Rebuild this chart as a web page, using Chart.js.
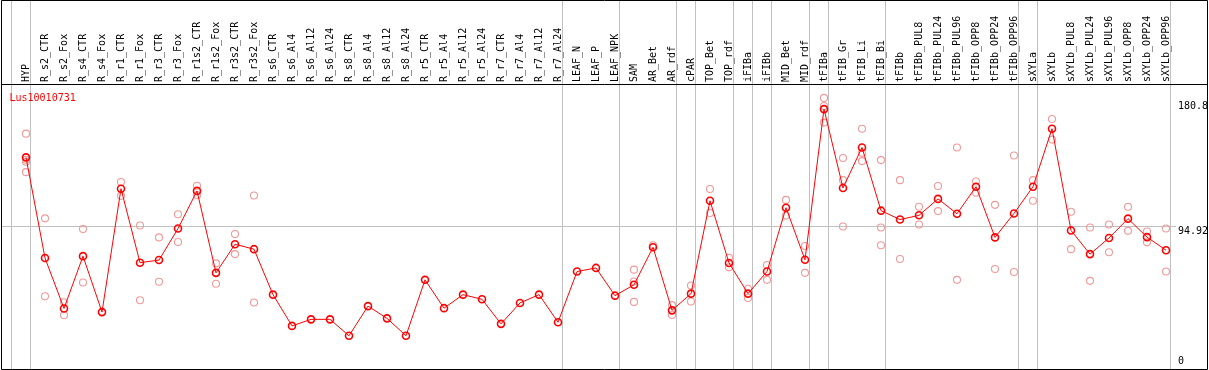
<!DOCTYPE html>
<html><head><meta charset="utf-8">
<script src="https://cdn.jsdelivr.net/npm/chart.js@4/dist/chart.umd.min.js"></script>
<style>html,body{margin:0;padding:0;background:#fff;overflow:hidden}canvas{display:block}</style>
</head><body>
<canvas id="c" width="1209" height="370"></canvas>
<script>
const geneName = 'Lus10010731';
const categories = ['HYP','R_s2_CTR','R_s2_Fox','R_s4_CTR','R_s4_Fox','R_r1_CTR','R_r1_Fox','R_r3_CTR','R_r3_Fox','R_r1s2_CTR','R_r1s2_Fox','R_r3s2_CTR','R_r3s2_Fox','R_s6_CTR','R_s6_Al4','R_s6_Al12','R_s6_Al24','R_s8_CTR','R_s8_Al4','R_s8_Al12','R_s8_Al24','R_r5_CTR','R_r5_Al4','R_r5_Al12','R_r5_Al24','R_r7_CTR','R_r7_Al4','R_r7_Al12','R_r7_Al24','LEAF_N','LEAF_P','LEAF_NPK','SAM','AR_Bet','AR_rdf','cPAR','TOP_Bet','TOP_rdf','iFIBa','iFIBb','MID_Bet','MID_rdf','tFIBa','tFIB_Gr','tFIB_Li','tFIB_Bi','tFIBb','tFIBb_PUL8','tFIBb_PUL24','tFIBb_PUL96','tFIBb_OPP8','tFIBb_OPP24','tFIBb_OPP96','sXYLa','sXYLb','sXYLb_PUL8','sXYLb_PUL24','sXYLb_PUL96','sXYLb_OPP8','sXYLb_OPP24','sXYLb_OPP96'];
const means = [142.5,73.2,38.5,74.5,36.0,120.9,70.0,71.8,93.5,119.4,63.0,82.7,79.3,48.0,26.5,31.0,31.0,19.7,40.1,31.7,19.7,58.2,38.7,48.0,44.8,27.9,42.3,48.0,29.0,63.9,66.4,47.3,54.8,80.6,37.2,48.7,112.6,69.8,48.7,63.9,107.8,72.0,175.7,121.4,149.3,105.8,99.7,102.6,113.9,103.7,122.3,87.4,103.9,122.3,162.2,92.2,75.9,87.0,100.3,87.6,78.6];
const replicates = [
  [158.8,140.8,139.5,132.3],[100.5,46.9],[42.8,33.8],[93.1,56.4],[],[125.5,116.0],[95.6,44.2],[87.4,56.9],[103.3,84.2],[123.0,116.4],
  [69.5,55.5],[89.7,75.9],[116.2,42.6],[],[],[],[],[],[],[],
  [],[],[],[],[],[],[],[],[],[],
  [],[],[65.2,57.1,43.0],[82.0],[40.8,34.0],[54.3,43.3],[120.7,104.2],[73.4,66.8],[52.1,45.7],[68.4,58.2],
  [113.2,102.4],[81.5,63.0],[183.4,177.8,166.4],[142.0,126.8,94.9],[162.2,145.6,139.9],[140.6,94.2,82.0],[126.8,72.5],[108.5,96.3],[122.8,105.5],[149.3,58.2],
  [125.9,118.2],[109.8,65.7],[143.8,63.6],[126.8,112.6],[168.9,154.7],[105.1,79.3],[94.2,57.5],[96.3,77.2],[108.5,91.9],[91.5,84.0],
  [93.5,63.9]
];
const yTickValues = [180.8, 94.92, 0];
const yGridValue = 94.92;
const groupBoundaryIndices = [-1,0,28,31,34,35,37,38,39,41,42,45,52,53,60];

const repPoints = [];
replicates.forEach((arr, i) => arr.forEach(v => repPoints.push({x: categories[i], y: v})));

const FONT = '10px "DejaVu Sans Mono", monospace';
const W = 1209, H = 370, HEADER_Y = 85.5;

const decor = {
  id: 'decor',
  beforeDatasetsDraw(chart) {
    const ctx = chart.ctx, xs = chart.scales.x, ys = chart.scales.y;
    ctx.save();
    ctx.strokeStyle = '#c0c0c0';
    ctx.lineWidth = 1;
    // horizontal grid
    const gy = Math.floor(ys.getPixelForValue(yGridValue)) + 0.5;
    ctx.beginPath(); ctx.moveTo(1, gy); ctx.lineTo(1176, gy); ctx.stroke();
    // vertical group lines
    groupBoundaryIndices.forEach(i => {
      const px = Math.floor(xs.getPixelForValue(i) + 4.5) + 0.5;
      ctx.beginPath(); ctx.moveTo(px, 0); ctx.lineTo(px, H); ctx.stroke();
    });
    ctx.restore();
  },
  afterDraw(chart) {
    const ctx = chart.ctx, xs = chart.scales.x, ys = chart.scales.y;
    ctx.save();
    // borders
    ctx.strokeStyle = '#000';
    ctx.lineWidth = 1;
    ctx.beginPath();
    ctx.moveTo(1.5, 0.5); ctx.lineTo(1207.5, 0.5); ctx.lineTo(1207.5, 369.5); ctx.lineTo(1.5, 369.5); ctx.closePath();
    ctx.moveTo(1.5, HEADER_Y - 1); ctx.lineTo(1207.5, HEADER_Y - 1);
    ctx.stroke();
    // x labels
    ctx.font = FONT;
    ctx.fillStyle = '#000';
    ctx.textAlign = 'left';
    ctx.textBaseline = 'middle';
    categories.forEach((c, i) => {
      const px = xs.getPixelForValue(i);
      ctx.save();
      ctx.translate(px + 0.5, 82);
      ctx.rotate(-Math.PI / 2);
      ctx.fillText(c, 0, 0);
      ctx.restore();
    });
    // y tick labels
    yTickValues.forEach(v => {
      let py = ys.getPixelForValue(v) + 8.5;
      if (py > 365.5) py = 365.5;
      ctx.fillText(String(v), 1178, py - 4);
    });
    // title
    ctx.fillStyle = '#ff0000';
    ctx.textBaseline = 'alphabetic';
    ctx.fillText(geneName, 9.5, 100.5);
    ctx.restore();
  }
};

new Chart(document.getElementById('c').getContext('2d'), {
  type: 'line',
  data: {
    labels: categories,
    datasets: [
      {data: means, borderColor: '#ff0000', borderWidth: 1, tension: 0, fill: false,
       pointRadius: 3.5, pointBorderWidth: 1.6, pointBorderColor: '#ff0000', pointBackgroundColor: 'rgba(0,0,0,0)', order: 0},
      {data: repPoints, showLine: false, pointRadius: 3.5, pointBorderWidth: 1.1,
       pointBorderColor: '#ef9a9a', pointBackgroundColor: 'rgba(0,0,0,0)', order: 1}
    ]
  },
  options: {
    responsive: false, animation: false, devicePixelRatio: 1, events: [],
    layout: {padding: {left: 16.5, right: 33.5, top: 86, bottom: 1.7}},
    plugins: {legend: {display: false}, tooltip: {enabled: false}, title: {display: false}},
    scales: {
      x: {display: false, offset: true},
      y: {display: false, min: 0, max: 191.6}
    }
  },
  plugins: [decor]
});
</script>
</body></html>
